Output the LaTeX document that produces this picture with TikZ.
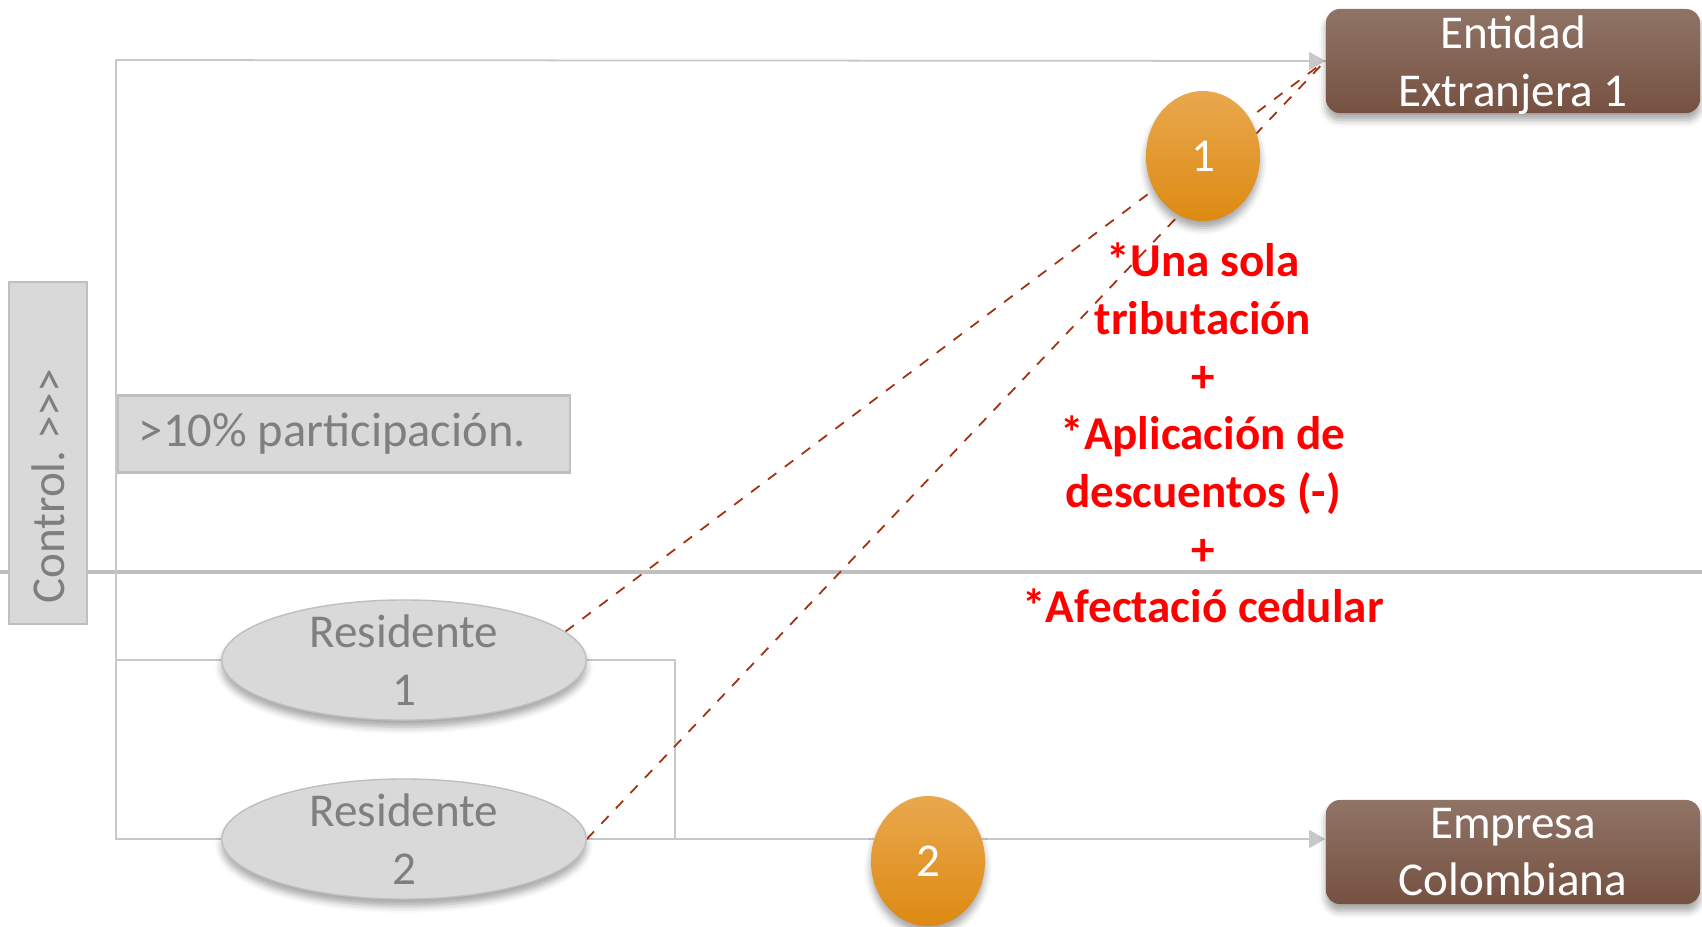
\documentclass[tikz,border=0pt]{standalone}
\usepackage{fontspec}
\setmainfont{Carlito}
\usetikzlibrary{arrows.meta,shapes.geometric,shadows.blur,backgrounds}
\definecolor{boxtop}{HTML}{8F7466}
\definecolor{boxbot}{HTML}{765142}
\definecolor{orgtop}{HTML}{E9A84E}
\definecolor{orgbot}{HTML}{DD8A12}
\definecolor{grayfill}{HTML}{D9D9D9}
\definecolor{grayedge}{HTML}{BFBFBF}
\definecolor{txtgray}{HTML}{7F7F7F}
\definecolor{linegray}{HTML}{C8C8C8}
\definecolor{dashred}{HTML}{A5300F}
\frenchspacing

\begin{document}
\begin{tikzpicture}[x=0.01cm,y=-0.01cm,
    every node/.style={font=\fontsize{13.4}{16.4}\selectfont},
    firma/.style={rounded corners=0.14cm, minimum width=3.74cm, minimum height=1.04cm, inner ysep=0pt,
        top color=boxtop, bottom color=boxbot, text=white, align=center,
        blur shadow={shadow xshift=0pt, shadow yshift=-2pt, shadow opacity=35}},
    gbox/.style={draw=grayedge, fill=grayfill, text=txtgray, line width=0.6pt},
    res/.style={ellipse, draw=grayedge, fill=grayfill, minimum width=3.64cm, minimum height=1.2cm,
        inner sep=0pt, blur shadow={shadow xshift=0pt, shadow yshift=-2pt, shadow opacity=35}},
    num/.style={ellipse, minimum width=1.14cm, minimum height=1.3cm, inner sep=0pt,
        top color=orgtop, bottom color=orgbot, text=white,
        blur shadow={shadow xshift=0pt, shadow yshift=-2pt, shadow opacity=35}},
    gline/.style={draw=linegray, line width=0.5pt},
    flecha/.style={gline, -{Triangle[length=0.16cm, width=0.18cm, fill=linegray]}},
    punteado/.style={draw=dashred, dashed, line width=0.5pt}]
    \useasboundingbox (0,0) rectangle (1702,926);

    \node[firma, text depth=0pt] (ent) at (1513,61) {Entidad\\Extranjera 1};
    \node[firma] (emp) at (1513,852) {Empresa\\Colombiana};

    \node[gbox, rotate=90, minimum width=3.41cm, minimum height=0.78cm, inner xsep=0.2cm,
        text width=3.01cm, align=flush left] (ctrl) at (48,453) {Control. >{}>{}>};
    \node[gbox, minimum width=4.52cm, minimum height=0.77cm, inner xsep=0.21cm,
        text width=4.1cm, align=flush left, font=\fontsize{13.8}{16.4}\selectfont] (pct) at (344,434)
        {>10\% participación.};

    \node[res, label={[text=txtgray, align=center]center:Residente\\1}] (res1) at (404,660) {};
    \node[res, label={[text=txtgray, align=center]center:Residente\\2}] (res2) at (404,839) {};

    \node[num] (n1) at (1203,156) {1};
    \node[num] (n2) at (928,861) {2};

    \node[text=red, font=\bfseries\fontsize{13.4}{16.4}\selectfont, align=center] (nota) at (1203,433)
        {*Una sola\\tributación\\+\\*Aplicación de\\descuentos (-)\\+\\*Afectació cedular};

    \coordinate (esq) at (116,60);
    \coordinate (codo) at (675,660);

    \begin{scope}[on background layer]
        \draw[draw=grayedge, line width=0.9pt] (0,572) -- (1702,572);
        \draw[flecha] (res1.west) -| (esq) -- (ent.west);
        \draw[gline] (res2.west) -| (res1.west -| esq);
        \draw[gline] (res1.east) -- (codo) |- (res2.east);
        \draw[flecha] (res2.east) -- (res2.east -| ent.west);
        \draw[punteado] (res1.10) -- (ent.west);
        \draw[punteado] (res2.east) -- (ent.west);
    \end{scope}
\end{tikzpicture}
\end{document}
